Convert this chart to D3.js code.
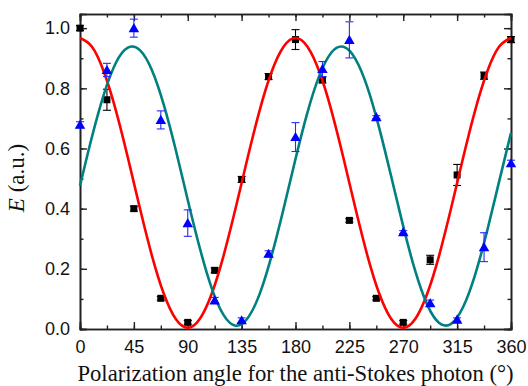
<!DOCTYPE html>
<html>
<head>
<meta charset="utf-8">
<script src="https://cdn.jsdelivr.net/npm/d3@7"></script>
<style>
  body { margin: 0; background: #fff; }
  svg { display: block; }
  .serif { font-family: 'Liberation Serif', 'Times New Roman', Times, serif; }
</style>
</head>
<body>
<div class="canvas"></div>
<script>
// measured data (angle in degrees, E in a.u.)
const angles = [0, 22.5, 45, 67.5, 90, 112.5, 135, 157.5, 180, 202.5, 225, 247.5, 270, 292.5, 315, 337.5, 360];
const blackE   = [1.0, 0.762, 0.40, 0.102, 0.022, 0.195, 0.497, 0.839, 0.962, 0.828, 0.361, 0.102, 0.022, 0.230, 0.512, 0.842, 0.962];
const blackErr = [0.008, 0.035, 0.008, 0.006, 0.006, 0.008, 0.01, 0.01, 0.033, 0.01, 0.006, 0.006, 0.006, 0.015, 0.035, 0.012, 0.01];
const blueE    = [0.679, 0.861, 1.0, 0.695, 0.352, 0.095, 0.029, 0.250, 0.638, 0.864, 0.961, 0.704, 0.322, 0.086, 0.031, 0.272, 0.551];
const blueErr  = [0.01, 0.022, 0.03, 0.03, 0.044, 0.01, 0.008, 0.01, 0.048, 0.025, 0.06, 0.005, 0.005, 0.01, 0.006, 0.048, 0.01];

const fitAngles = d3.range(0, 361, 10);
const redFit = [0.967, 0.938, 0.854, 0.726, 0.569, 0.402, 0.245, 0.117, 0.033, 0.004,
                0.033, 0.117, 0.245, 0.402, 0.569, 0.726, 0.854, 0.938, 0.967,
                0.938, 0.854, 0.726, 0.569, 0.402, 0.245, 0.117, 0.033, 0.004,
                0.033, 0.117, 0.245, 0.402, 0.569, 0.726, 0.854, 0.938, 0.967];
const tealFit = [0.476, 0.639, 0.781, 0.885, 0.935, 0.927, 0.861, 0.745, 0.595, 0.429,
                 0.270, 0.136, 0.046, 0.011, 0.036, 0.116, 0.243, 0.399, 0.565,
                 0.720, 0.843, 0.919, 0.938, 0.898, 0.804, 0.667, 0.506, 0.341,
                 0.193, 0.081, 0.020, 0.017, 0.073, 0.180, 0.325, 0.489, 0.652];

const xTicks = [0, 45, 90, 135, 180, 225, 270, 315, 360];
const yTicks = [0.0, 0.2, 0.4, 0.6, 0.8, 1.0];

const margin = { top: 14, right: 17, bottom: 57, left: 80 };
const width = 528, height = 386;
const graphWidth = width - margin.left - margin.right;
const graphHeight = height - margin.top - margin.bottom;

const sans = '"Liberation Sans", Arial, sans-serif';

const svg = d3.select('.canvas')
    .append('svg')
    .attr('width', width)
    .attr('height', height);

const graph = svg.append('g')
    .attr('transform', `translate(${margin.left}, ${margin.top})`);

const x = d3.scaleLinear().domain([0, 360]).range([0, graphWidth]);
const y = d3.scaleLinear().domain([0, 1.047]).range([graphHeight, 0]);

const axisColor = '#222';

// minor ticks first, then major ticks with labels
const minorX = d3.range(0, 361, 22.5);
const minorY = d3.range(0, 1.01, 0.1);

const addAxis = (axis, tr, cls) => graph.append('g')
    .attr('class', cls)
    .attr('transform', tr)
    .call(axis);

addAxis(d3.axisBottom(x).tickValues(minorX).tickSize(-3.5).tickFormat(''), `translate(0, ${graphHeight})`, 'x-minor');
addAxis(d3.axisTop(x).tickValues(minorX).tickSize(-3.5).tickFormat(''), 'translate(0, 0)', 'x-minor');
addAxis(d3.axisLeft(y).tickValues(minorY).tickSize(-3.5).tickFormat(''), 'translate(0, 0)', 'y-minor');
addAxis(d3.axisRight(y).tickValues(minorY).tickSize(-3.5).tickFormat(''), `translate(${graphWidth}, 0)`, 'y-minor');

addAxis(d3.axisBottom(x).tickValues(xTicks).tickSize(-7).tickPadding(11).tickFormat(d3.format('d')),
    `translate(0, ${graphHeight})`, 'x-axis');
addAxis(d3.axisTop(x).tickValues(xTicks).tickSize(-7).tickFormat(''), 'translate(0, 0)', 'x-top');
addAxis(d3.axisLeft(y).tickValues(yTicks).tickSize(-7).tickPadding(10).tickFormat(d3.format('.1f')),
    'translate(0, 0)', 'y-axis');
addAxis(d3.axisRight(y).tickValues(yTicks).tickSize(-7).tickFormat(''), `translate(${graphWidth}, 0)`, 'y-right');

graph.selectAll('.domain').attr('stroke', axisColor).attr('stroke-width', 1.6);
graph.selectAll('.tick line').attr('stroke', axisColor).attr('stroke-width', 1.4);
graph.selectAll('.tick text')
    .attr('fill', '#111')
    .style('font-family', sans)
    .style('font-size', '18px');

// error bars
const drawErr = (vals, errs, color, w) => {
    const g = graph.append('g');
    angles.forEach((a, i) => {
        const cx = x(a), y0 = y(vals[i] - errs[i]), y1 = y(vals[i] + errs[i]);
        g.append('line').attr('x1', cx).attr('x2', cx).attr('y1', y0).attr('y2', y1)
            .attr('stroke', color).attr('stroke-width', w);
        [y0, y1].forEach(yy => g.append('line')
            .attr('x1', cx - 4).attr('x2', cx + 4).attr('y1', yy).attr('y2', yy)
            .attr('stroke', color).attr('stroke-width', w));
    });
};

drawErr(blackE, blackErr, '#000', 1.1);

// black squares
graph.append('g').selectAll('rect')
    .data(angles)
    .enter()
    .append('rect')
        .attr('x', (d, i) => x(d) - 3.5)
        .attr('y', (d, i) => y(blackE[i]) - 3.5)
        .attr('width', 7)
        .attr('height', 7)
        .attr('fill', '#000');

// fit lines
const line = vals => d3.line()
    .x((d, i) => x(d))
    .y((d, i) => y(vals[i]))
    .curve(d3.curveNatural)(fitAngles);

graph.append('path').attr('d', line(redFit))
    .attr('fill', 'none').attr('stroke', '#ff0000').attr('stroke-width', 2.6);
graph.append('path').attr('d', line(tealFit))
    .attr('fill', 'none').attr('stroke', '#008080').attr('stroke-width', 2.6);

drawErr(blueE, blueErr, '#2a2aff', 1.1);

// blue triangles
const tri = d3.symbol().type(d3.symbolTriangle).size(48);
graph.append('g').selectAll('path')
    .data(angles)
    .enter()
    .append('path')
        .attr('d', tri)
        .attr('transform', (d, i) => `translate(${x(d)}, ${y(blueE[i]) + 1})`)
        .attr('fill', '#0000ff');

// axis titles
svg.append('text')
    .attr('class', 'serif')
    .attr('x', margin.left + graphWidth / 2)
    .attr('y', 381)
    .attr('text-anchor', 'middle')
    .attr('font-size', 22.7)
    .attr('fill', '#111')
    .text('Polarization angle for the anti-Stokes photon (°)');

const yTitle = svg.append('text')
    .attr('class', 'serif')
    .attr('transform', 'translate(24, 178) rotate(-90)')
    .attr('text-anchor', 'middle')
    .attr('font-size', 23)
    .attr('fill', '#111');
yTitle.append('tspan').attr('font-style', 'italic').text('E');
yTitle.append('tspan').text(' (a.u.)');
</script>
</body>
</html>
